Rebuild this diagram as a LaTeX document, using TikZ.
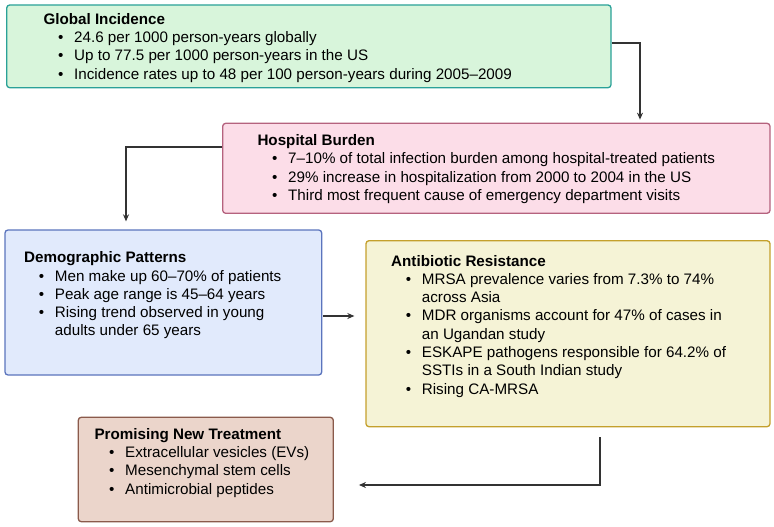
\documentclass[tikz,border=0pt]{standalone}
\usepackage{fontspec}
\setmainfont{Liberation Sans}
\usetikzlibrary{arrows.meta,calc}
\definecolor{gfill}{HTML}{D8F5DB}
\definecolor{gline}{HTML}{2AA198}
\definecolor{pfill}{HTML}{FCDDE8}
\definecolor{pline}{HTML}{B5627E}
\definecolor{bfill}{HTML}{E1EAFC}
\definecolor{bline}{HTML}{5B74BD}
\definecolor{yfill}{HTML}{F5F3D6}
\definecolor{yline}{HTML}{C4A02C}
\definecolor{rfill}{HTML}{EBD5CB}
\definecolor{rline}{HTML}{8A5A4B}
\definecolor{conncol}{HTML}{333333}
\newcommand\bl{\makebox[30.7pt][l]{\hspace{14.6pt}\textbullet}}
\newcommand\cont{\hspace*{30.7pt}}
\newenvironment{lst}{\begin{tabular}[t]{@{}l@{}}}{\end{tabular}}
\tikzset{
  boxnode/.style={draw, line width=1.3pt, rounded corners=3pt, inner sep=0pt},
  txt/.style={anchor=base west, inner sep=0pt, font=\fontsize{15.2}{18.3}\selectfont},
  conn/.style={draw=conncol, line width=1.3pt, -{Stealth[length=7pt,width=6pt]}}
}
\begin{document}
\begin{tikzpicture}[x=1pt,y=-1pt]
\useasboundingbox (0,0) rectangle (774,527);
% boxes
\node[boxnode, fill=gfill, draw=gline, minimum width=604.3pt, minimum height=82.7pt] (b1) at (308.85,46.35) {};
\node[boxnode, fill=pfill, draw=pline, minimum width=547.3pt, minimum height=90pt] (b2) at (496.35,168.3) {};
\node[boxnode, fill=bfill, draw=bline, minimum width=316.7pt, minimum height=145pt] (b3) at (163.35,302.5) {};
\node[boxnode, fill=yfill, draw=yline, minimum width=404pt, minimum height=186pt] (b4) at (568,333.7) {};
\node[boxnode, fill=rfill, draw=rline, minimum width=255pt, minimum height=104.4pt] (b5) at (205.8,469.5) {};
% texts
\node[txt] (t1) at (43.3,24.4) {\begin{lst}\textbf{Global Incidence}\\
\bl 24.6 per 1000 person-years globally\\
\bl Up to 77.5 per 1000 person-years in the US\\
\bl Incidence rates up to 48 per 100 person-years during 2005–2009\end{lst}};
\node[txt] (t2) at (257.3,145.6) {\begin{lst}\textbf{Hospital Burden}\\
\bl 7–10\% of total infection burden among hospital-treated patients\\
\bl 29\% increase in hospitalization from 2000 to 2004 in the US\\
\bl Third most frequent cause of emergency department visits\end{lst}};
\node[txt] (t3) at (24,262.7) {\begin{lst}\textbf{Demographic Patterns}\\
\bl Men make up 60–70\% of patients\\
\bl Peak age range is 45–64 years\\
\bl Rising trend observed in young\\
\cont adults under 65 years\end{lst}};
\node[txt] (t4) at (391,266) {\begin{lst}\textbf{Antibiotic Resistance}\\
\bl MRSA prevalence varies from 7.3\% to 74\%\\
\cont across Asia\\
\bl MDR organisms account for 47\% of cases in\\
\cont an Ugandan study\\
\bl ESKAPE pathogens responsible for 64.2\% of\\
\cont SSTIs in a South Indian study\\
\bl Rising CA-MRSA\end{lst}};
\node[txt] (t5) at (94.3,439.3) {\begin{lst}\textbf{Promising New Treatment}\\
\bl Extracellular vesicles (EVs)\\
\bl Mesenchymal stem cells\\
\bl Antimicrobial peptides\end{lst}};
% connectors
\coordinate (k1) at (640,43);
\coordinate (k2) at (126,147);
\coordinate (k3) at (340,316);
\coordinate (k4) at (600,485);
\draw[conn, shorten >=3pt] (b1.east |- k1) -| (b2.north -| k1);
\draw[conn, shorten >=8pt] (b2.west |- k2) -| (b3.north -| k2);
\draw[conn, shorten >=11pt, shorten <=1pt] (b3.east |- k3) -- (b4.west |- k3);
\draw[conn, shorten <=10pt, shorten >=25pt] (b4.south -| k4) |- (b5.east |- k4);
\end{tikzpicture}
\end{document}
